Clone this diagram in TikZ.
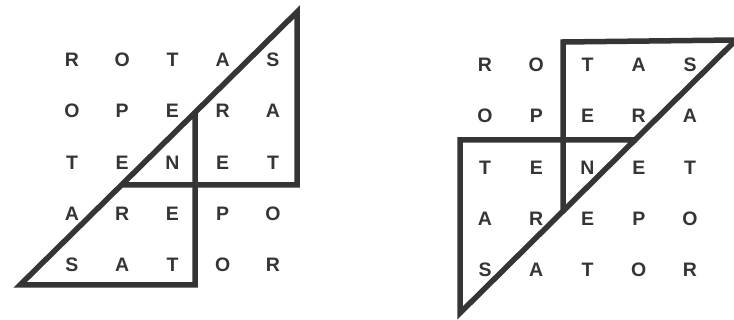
\documentclass[tikz,border=0pt]{standalone}
\usepackage{fontspec}
\setmainfont{Liberation Sans}
\definecolor{ink}{HTML}{353535}
\begin{document}
\begin{tikzpicture}[x=1pt,y=-1pt,
  letter/.style={text=ink,font=\fontsize{19.5}{19.5}\selectfont\bfseries,inner sep=0pt,anchor=center},
  frame/.style={draw=ink,line width=5.5pt,line join=miter}]
\useasboundingbox (0,0) rectangle (734,320);
% left square
\foreach \w [count=\j from 0] in {{R,O,T,A,S},{O,P,E,R,A},{T,E,N,E,T},{A,R,E,P,O},{S,A,T,O,R}}{
  \foreach \c [count=\i from 0] in \w {
    \node[letter] (L-\i-\j) at ({72+50.25*\i},{60+51.25*\j}) {\c};
  }
}
% right square
\foreach \w [count=\j from 0] in {{R,O,T,A,S},{O,P,E,R,A},{T,E,N,E,T},{A,R,E,P,O},{S,A,T,O,R}}{
  \foreach \c [count=\i from 0] in \w {
    \node[letter] (R-\i-\j) at ({485+51.25*\i},{65+51.25*\j}) {\c};
  }
}
% left frame
\coordinate (la) at (121,185);
\coordinate (lb) at (297,185);
\coordinate (lc) at (297,12);
\coordinate (ld) at (20,285);
\coordinate (le) at (195,285);
\coordinate (lf) at (195,112);
\draw[frame] (la) -- (lb) -- (lc) -- (ld) -- (le) -- (lf);
% right frame
\coordinate (ra) at (637,140);
\coordinate (rb) at (460,140);
\coordinate (rc) at (460,313);
\coordinate (rd) at (736,40);
\coordinate (re) at (563,42);
\coordinate (rf) at (563,211);
\draw[frame] (ra) -- (rb) -- (rc) -- (rd) -- (re) -- (rf);
\end{tikzpicture}
\end{document}
